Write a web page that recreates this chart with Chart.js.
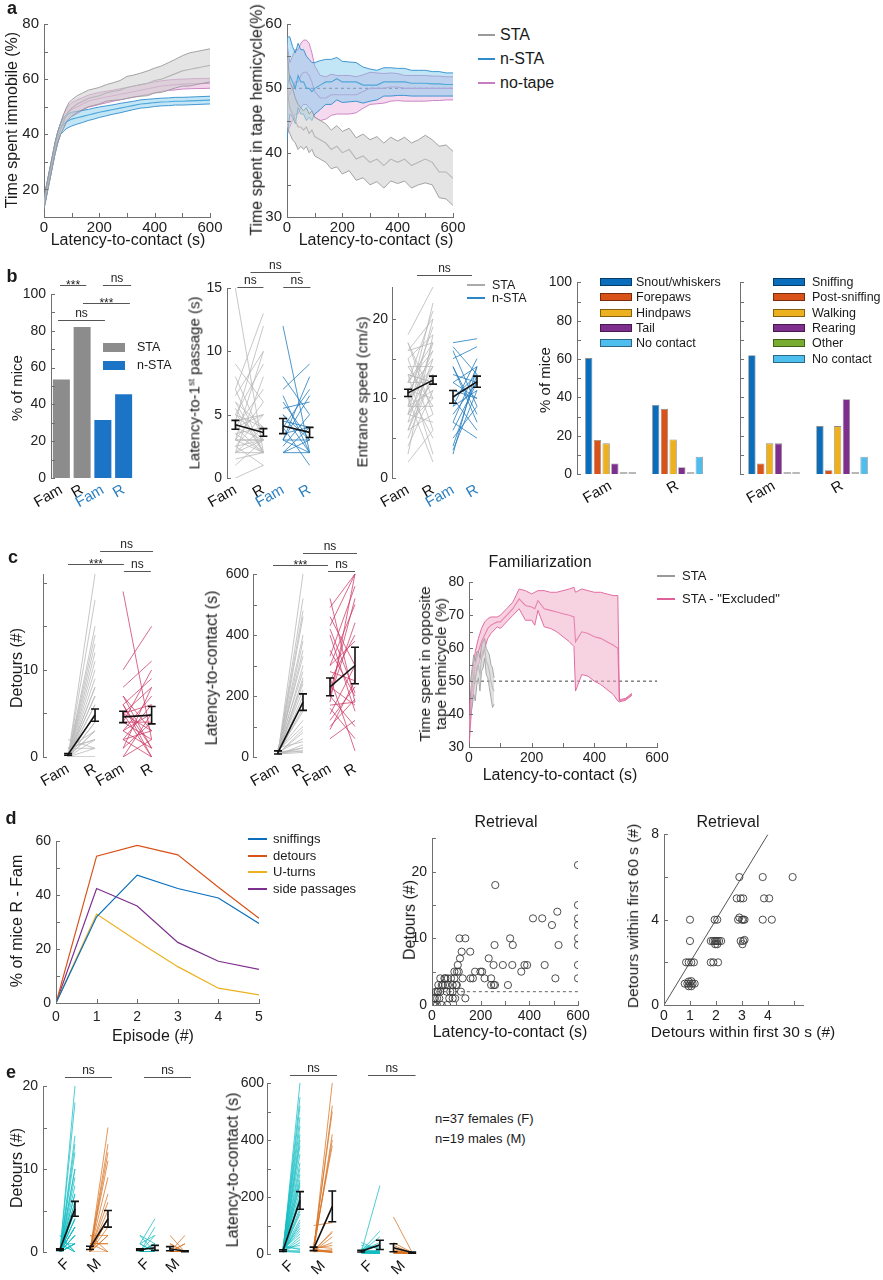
<!DOCTYPE html>
<html><head><meta charset="utf-8">
<script src="https://cdn.jsdelivr.net/npm/chart.js@4.4.1/dist/chart.umd.min.js"></script>
<style>
html,body{margin:0;padding:0;background:#fff;}
#fig{position:relative;width:883px;height:1280px;overflow:hidden;background:#fff;}
.t{position:absolute;white-space:nowrap;line-height:1.15;color:#1a1a1a;font-family:'Liberation Sans',Arial,sans-serif;}
.sw{position:absolute;box-sizing:border-box;}
</style></head><body><div id="fig"></div>
<script>
// ================= DATA =================
// panel a
const aLatency = [0,10,20,30,40,50,60,70,80,90,100,120,140,160,180,200,225,250,275,300,325,350,375,400,425,450,475,500,525,550,575,600];
const aImmSTA   = [15,20,25,30,35,39,42,44.5,47,48.5,49.5,51,52,53,53.5,54,55,55.5,56,57,57.5,58,58.5,59.5,60,61,62,63,63.5,64,64.5,65];
const aImmSTAe  = [2,2,2,2,2,2,2,2.5,2.5,3,3,3,3,3,3,3,3,3.2,3.5,4,4,4.2,4.5,4.5,4.8,5,5.2,5.5,6,6,6,6];
const aImmNSTA  = [15,20,25,30,35,39,42,43.5,44.5,45,45.5,46,46.5,47,47.5,48,48.5,49,49.5,50,50.5,51,51.2,51.5,51.7,51.8,52,52,52.1,52.2,52.3,52.4];
const aImmNSTAe = [2,2,2,2,2,2,2,2.5,2.5,2.5,2.5,2.3,2.2,2,2,1.9,1.8,1.7,1.7,1.6,1.5,1.5,1.5,1.4,1.4,1.4,1.4,1.4,1.4,1.4,1.4,1.4];
const aImmNT    = [15,20,25,30,35,39,42,44.5,46.5,48,49,50,51,52,52.5,53,53.5,54,54.5,55,55.5,56,56.5,57,57.5,57.8,58,58.2,58.3,58.4,58.4,58.5];
const aImmNTe   = [2,2,2,2,2,2,2,2.5,2.5,2.5,2.5,2.5,2.3,2.2,2.2,2.2,2.1,2,2,2,2,2,2,2,1.9,1.9,1.9,1.8,1.8,1.8,1.8,1.8];
const aHemSTA   = [50,47,46,45,44,44,43.5,44,43,43.5,42.5,42,41.5,40.5,41,40,40.5,39,39.5,38.5,39,38,39,38.5,39,38,38.5,39,38.5,37,37,36];
const aHemSTAe  = [6,4,4,3.5,3.5,3,3,3,3,3,3,3,3,3,3.2,3.3,3.3,3.3,3.4,3.5,3.5,3.5,3.4,3.3,3.4,3.5,3.5,3.7,3.5,4,4.2,4.2];
const aHemNSTA  = [50,52,51,50,52,51,51,50,50,49.5,50,50.5,51,51,51.5,51,51,51,50.5,50.5,50.5,51,51,51,51,50.8,50.8,50.8,50.7,50.7,50.6,50.6];
const aHemNSTAe = [8,6,5.5,5.5,5,5,5,5,4.5,4.5,4,3.8,3.5,3.5,3.3,3.2,3.1,3,2.8,2.5,2.3,2.2,2.2,2.1,2.1,2,2,2,1.9,1.9,1.8,1.8];
const aHemNT    = [50,49,50,51,51,52,52.5,52.5,52,51,49.5,48.5,48.5,49,49,49,49,49,49.5,50,50,50,50.2,50.2,50,50,50,50,50,50,50,50];
const aHemNTe   = [7,5,5,5,5,5,5,5,5,4.5,4,3.5,3.3,3.2,3,3,3,2.8,2.6,2.5,2.4,2.3,2.2,2.1,2,2,2,2,1.9,1.9,1.8,1.8];
const hemiChance = 50;
const chanceRange = [0,600];
// panel b
const bBarCats = ['Fam','R','Fam','R'];
const bBarVals = [53.5,82,31.5,45.5];
const bPairLabels = ['Fam','R','Fam','R'];
const bLatSTAfam  = [15,9,8,7,6.5,6,5.5,5,5,4.5,4.5,4,4,4,3.5,3.5,3,3,3,3,2.5,2.5,2.5,2,2,2,2,1.5,1,0,6,5,4,3,7];
const bLatSTAr    = [2,6,3,13,10,4,2,9,3,12,5,2,7,3,4,2,10,6,3,2,5,3,1,4,8,3,2,2,3,1,2,4,5,3,2];
const bLatNSTAfam = [12,8,7,6,5.5,5,4.5,4,4,3.5,3,3,3,2.5,2,2,2,6.5,5,3];
const bLatNSTAr   = [2,5,9,3,6,2,4,7,1,4,6.5,3,2,5,3,2,4,2,3,8];
const bLatMeanSTA = [4.2,3.6], bLatSemSTA = [0.35,0.3];
const bLatMeanNSTA = [4.1,3.6], bLatSemNSTA = [0.6,0.4];
const bSpdSTAfam  = [18,17,16,15,15,14,13,13,12,12,11,11,10,10,10,9,9,9,8,8,8,7,7,6,6,5,4,3,2,14,12,11,13,9,10,16,17,12,8,6];
const bSpdSTAr    = [24,8,20,6,18,14,3,12,21,17,10,15,2,13,19,9,16,11,7,14,12,17,10,8,15,13,11,18,6,9,16,5,12,22,14,17,10,12,20,13];
const bSpdNSTAfam = [17,16.5,16,15,14,13,12,11,10,10,9,9,8,7,7,6,5,4,3.5,3,12,14];
const bSpdNSTAr   = [17.5,13,9,16.5,7,12,14,10,6,13,15,11,12,5,14,12,9,13,11,14,10,8];
const bSpdMeanSTA = [10.7,12.3], bSpdSemSTA = [0.45,0.5];
const bSpdMeanNSTA = [10.2,12.1], bSpdSemNSTA = [0.8,0.7];
const gCats = ['Fam','R'];
const g1Snout = [60.5,36], g1Fore = [17.8,34], g1Hind = [16,18], g1Tail = [5.5,3.5], g1Other = [0,0], g1None = [0,9];
const g2Sniff = [62,25], g2Post = [5.5,2], g2Walk = [16,25], g2Rear = [16,39], g2Other = [0,0], g2None = [0,9];
// panel c
const cDetSTAfam = [0,0,0,0,0,0,0,0,0,0,0,0,0,0,0,0,0,0,0,0,1,1,1,2,0,0,0,0,1,0];
const cDetSTAr   = [21,18,15,14,13,12,11,10,9,8,8,7,6,6,5,5,4,4,3,3,2,2,1,1,1,0,0,2,3,7];
const cDetEXfam  = [19,10,8,7,6,6,5,5,5,4,4,4,3,3,3,2,2,2,1,1,0,0,6,7,5];
const cDetEXr    = [2,15,11,3,9,1,8,0,6,10,4,2,7,5,1,6,3,0,8,4,2,5,0,1,3];
const cDetMeanSTA = [0.3,4.8], cDetSemSTA = [0.1,0.7];
const cDetMeanEX = [4.6,4.8], cDetSemEX = [0.65,1.0];
const cLatSTAfam = [10,12,15,8,20,10,15,12,25,10,18,14,9,11,13,16,20,22,10,12,15,30,8,10,14,12,18,10,11,25];
const cLatSTAr   = [600,520,480,460,400,380,350,300,280,260,250,220,200,180,160,150,120,100,90,80,60,50,40,30,30,20,20,15,240,330];
const cLatEXfam  = [520,490,460,430,400,350,330,300,280,260,250,230,210,200,180,170,160,140,120,100,90,60,420,300,200];
const cLatEXr    = [180,600,300,600,150,200,560,500,250,20,400,170,520,100,600,180,60,300,230,190,250,120,210,380,440];
const cLatMeanSTA = [15,180], cLatSemSTA = [5,27];
const cLatMeanEX = [230,300], cLatSemEX = [29,60];
const famLatSTA = [5,10,15,20,25,30,35,40,45,50,55,60,65,70,75,80];
const famSTA    = [45,48,52,50,54,55,52,57,58,60,56,55,53,50,48,47];
const famSTAe   = [5,6,6,6,5,4,5,4,4,3,4,4,5,5,6,4];
const famLatEx  = [0,10,20,30,40,50,60,70,80,90,100,120,140,150,160,180,200,210,220,240,260,280,300,320,335,340,360,380,400,420,440,460,475,480,500,520];
const famEx     = [35,48,55,59,62,64,66,67,67.5,68,68,70,72,73.5,75,73,72.5,72,74.5,72,71.5,71,70.5,70,69.5,62,65,64.5,63.5,63,62,61,60,44,44.5,46];
const famExE    = [5,4,4,4,4,4,3,2.5,2,1.5,2,2,2,2.5,3,4.5,4,5,3,5.5,5.5,6,7,8,9,15,13,13,13.5,14,14.5,15,16,0.3,0.3,0.3];
// panel d
const dEpisode = [0,1,2,3,4,5];
const dSniff   = [0,32,47.5,42.5,39,29.5];
const dDetours = [0,54.5,58.5,55,43,31.5];
const dUturns  = [0,33,23,13.5,5.5,3];
const dSide    = [0,42.5,36,22.5,15.5,12.5];
const retLat = [600,260,600,515,415,453,600,493,600,113,137,321,600,257,332,520,600,122,157,115,233,106,253,291,330,380,391,463,600,92,103,177,199,206,367,34,51,65,78,92,126,158,168,216,243,507,600,26,40,54,65,85,99,102,243,254,259,312,16,23,34,75,85,119,7,12,21,71,85,95,137,5,10,40,62,20,25,30,45,55,60,110];
const retDet = [21,18,15,14,13,13,13,12,12,10,10,10,10,9,9,9,9,8,8,7,7,6,6,6,6,6,6,6,6,5,5,5,5,5,5,4,4,4,4,4,4,4,4,4,4,4,4,3,3,3,3,3,3,3,3,3,3,3,2,2,2,2,2,2,1,1,1,1,1,1,1,0,0,0,0,0,2,1,3,4,2,5];
const retThreshold = 2, retThresholdRange = [20,600];
const det30 = [2.9,3.8,4.95,2.8,2.95,3.05,3.85,4.05,1.0,1.95,2.05,2.85,2.9,3.0,3.05,3.1,3.8,4.15,1.0,1.8,1.88,1.95,2.0,2.05,2.12,2.2,1.97,2.05,2.95,3.05,3.1,3.02,0.85,0.95,1.05,1.15,1.8,1.9,2.08,0.8,0.9,0.95,1.0,1.05,1.1,1.18,0.95,1.05];
const det60 = [6,6,6,5,5,5,5,5,4,4,4,4,4.1,4,4,4,4,4,3,3,3,3,3,3,3,3,2.85,2.85,3,3,3.05,2.85,2,2,2,2,2,2,2,1,1,0.88,1,1.12,1,1,1.1,0.88];
const diagX = [0,4], diagY = [0,8];
// panel e
const eLabels = ['F','M','F','M'];
const eDetFfam  = [0,0,0,0,0,0,0,0,0,0,0,0,0,0,0,0,0,0,0,0,0,0,0,0,0,0,0,0,0,0,0,1,1,2,2,1,0];
const eDetFr    = [20,18,14,13,12,10,10,9,8,7,7,6,6,5,5,5,4,4,4,3,3,3,3,2,2,2,2,1,1,1,1,1,0,0,0,0,1];
const eDetMfam  = [0,0,0,0,0,0,0,0,0,0,0,0,0,1,1,1,2,2,0];
const eDetMr    = [15,13,12,11,9,7,6,5,4,4,3,2,2,1,1,0,2,0,0];
const eDet2Ffam = [2,2,1,1,1,1,0,0,0,0,0,0,0,0,0,0,0,0,0,0,0,0,0,0,0,0,0,0,0,0,0,0,0,0,0,0,0];
const eDet2Fr   = [0,1,0,4,2,0,3,1,1,0,0,0,0,1,0,0,0,0,2,0,0,0,0,0,1,0,0,0,0,0,0,0,0,0,0,0,0];
const eDet2Mfam = [2,1,1,0,0,0,0,0,0,0,0,0,0,0,0,0,0,0,0];
const eDet2Mr   = [0,0,0,2,1,0,1,0,0,0,0,0,0,0,0,0,0,0,0];
const eDetMeanF = [0.3,5.2], eDetSemF = [0.1,0.9];
const eDetMeanM = [0.5,4.0], eDetSemM = [0.2,1.0];
const eDet2MeanF = [0.3,0.5], eDet2SemF = [0.1,0.3];
const eDet2MeanM = [0.4,0.1], eDet2SemM = [0.25,0.05];
const eLatFfam  = [10,12,8,15,20,10,5,9,14,11,13,7,25,10,12,15,8,9,10,11,12,13,14,15,16,10,8,6,20,22,30,10,12,9,11,8,7];
const eLatFr    = [600,550,520,480,450,420,400,380,350,320,300,280,260,250,240,220,200,180,160,140,120,100,90,80,70,60,50,40,30,20,15,10,10,5,200,150,110];
const eLatMfam  = [10,15,20,8,12,30,100,10,12,9,15,20,25,10,8,12,18,14,11];
const eLatMr    = [600,520,500,420,400,380,110,80,75,60,40,30,20,15,10,10,8,5,5];
const eLat2Ffam = [5,10,8,12,15,20,30,40,10,8,6,5,4,10,12,8,6,5,9,7,10,5,6,8,4,3,5,6,7,8,9,10,5,4,6,7,8];
const eLat2Fr   = [240,80,60,40,30,25,20,15,10,5,8,6,4,12,10,8,5,3,6,4,3,5,2,4,3,2,5,4,3,2,6,5,4,3,2,5,4];
const eLat2Mfam = [130,40,30,20,15,10,10,8,6,5,5,4,3,10,8,6,5,4,3];
const eLat2Mr   = [5,5,3,4,2,3,5,4,3,2,3,4,5,2,3,4,2,3,2];
const eLatMeanF = [12,188], eLatSemF = [3,31];
const eLatMeanM = [18,167], eLatSemM = [6,54];
const eLat2MeanF = [10,32], eLat2SemF = [3,16];
const eLat2MeanM = [22,5], eLat2SemM = [14,2];

// ================= STYLE / HELPERS =================
const F = "'Liberation Sans', Arial, Helvetica, sans-serif";
const AX = '#707070';
Chart.defaults.font.family = F;
Chart.defaults.color = '#222';
const fig = document.getElementById('fig');

const deco = {
  id: 'deco',
  afterDatasetsDraw(chart, args, o) {
    const c = chart.ctx, X = chart.scales.x, Y = chart.scales.y;
    c.save();
    if (o.ticks) {
      c.strokeStyle = AX; c.lineWidth = 1;
      for (const id in o.ticks) {
        const s = chart.scales[id], st = o.ticks[id];
        if (!st) continue;
        const len = 4;
        for (let k = Math.ceil(s.min / st - 1e-9); k * st <= s.max + 1e-9; k++) {
          const p = Math.round(s.getPixelForValue(k * st)) + 0.5;
          c.beginPath();
          if (s.isHorizontal()) { c.moveTo(p, s.top); c.lineTo(p, s.top - len); }
          else { c.moveTo(s.right, p); c.lineTo(s.right + len, p); }
          c.stroke();
        }
      }
    }
    (o.err || []).forEach(g => {
      c.strokeStyle = '#111'; c.lineWidth = 1.6;
      const P = g.x.map((x, i) => ({x: X.getPixelForValue(x), m: Y.getPixelForValue(g.m[i]),
        hi: Y.getPixelForValue(g.m[i] + g.e[i]), lo: Y.getPixelForValue(g.m[i] - g.e[i])}));
      c.beginPath(); c.moveTo(P[0].x, P[0].m); c.lineTo(P[1].x, P[1].m); c.stroke();
      P.forEach(p => {
        c.beginPath();
        c.moveTo(p.x, p.hi); c.lineTo(p.x, p.lo);
        c.moveTo(p.x - 4, p.hi); c.lineTo(p.x + 4, p.hi);
        c.moveTo(p.x - 4, p.lo); c.lineTo(p.x + 4, p.lo);
        c.stroke();
      });
    });
    (o.sig || []).forEach(s => {
      const y = Math.round(Y.getPixelForValue(s.y)) + 0.5;
      const x0 = X.getPixelForValue(s.x0), x1 = X.getPixelForValue(s.x1);
      c.strokeStyle = '#555'; c.lineWidth = 1;
      c.beginPath(); c.moveTo(x0, y); c.lineTo(x1, y); c.stroke();
      c.fillStyle = '#222'; c.font = '12px ' + F; c.textAlign = 'center'; c.textBaseline = 'alphabetic';
      c.fillText(s.t, (x0 + x1) / 2, s.t === 'ns' ? y - 4 : y + 3);
    });
    c.restore();
  }
};

function mk(A, M, type, datasets, scales, dopt, extraData) {
  const W = A[2] - A[0] + M[0] + M[2], H = A[3] - A[1] + M[1] + M[3];
  const cv = document.createElement('canvas');
  cv.width = W; cv.height = H;
  cv.style.cssText = `position:absolute;left:${A[0]-M[0]}px;top:${A[1]-M[1]}px;width:${W}px;height:${H}px;`;
  fig.appendChild(cv);
  scales.x.afterFit = s => { s.height = M[3]; };
  scales.y.afterFit = s => { s.width = M[0]; };
  return new Chart(cv, {
    type, data: Object.assign({datasets}, extraData || {}),
    options: {
      responsive: false, animation: false,
      layout: {padding: {left: 0, top: M[1], right: M[2], bottom: 0}},
      plugins: {legend: {display: false}, tooltip: {enabled: false}, deco: dopt || {}},
      scales,
      elements: {point: {radius: 0}, line: {tension: 0}}
    },
    plugins: [deco]
  });
}

function lin(min, max, step, fs, pad, hide) {
  return {
    type: 'linear', min, max,
    grid: {display: false, drawTicks: false, tickLength: 0},
    border: {display: true, color: AX, width: 1},
    ticks: {stepSize: step, autoSkip: false, padding: pad == null ? 5 : pad, color: '#222', font: {size: fs || 14},
      callback: v => hide ? '' : (Math.abs(v / step - Math.round(v / step)) < 1e-6 ? String(Math.round(v * 100) / 100) : '')}
  };
}
function pxs(min, max, pos, labels, colors, rot, fs) {
  return {
    type: 'linear', min, max, grid: {display: false, drawTicks: false, tickLength: 0}, border: {display: false},
    afterBuildTicks: s => { s.ticks = pos.map(v => ({value: v})); },
    ticks: {autoSkip: false, maxRotation: rot, minRotation: rot, padding: 3, font: {size: fs || 15},
      callback: (v, i) => labels[i], color: c => colors[c.index] || '#111'}
  };
}
const pts = (xs, ys) => xs.map((x, i) => ({x, y: ys[i]}));
function band(xs, m, e, line, fillc) {
  return [
    {data: xs.map((x, i) => ({x, y: m[i] + e[i]})), showLine: true, borderColor: line, borderWidth: 0.9, pointRadius: 0},
    {data: xs.map((x, i) => ({x, y: m[i] - e[i]})), showLine: true, borderColor: line, borderWidth: 0.9, pointRadius: 0, fill: '-1', backgroundColor: fillc},
    {data: pts(xs, m), showLine: true, borderColor: line, borderWidth: 1.1, pointRadius: 0}
  ];
}
function pairs(fam, r, x0, x1, col) {
  return fam.map((f, i) => ({data: [{x: x0, y: f}, {x: x1, y: r[i]}], showLine: true, borderColor: col, borderWidth: 1, pointRadius: 0}));
}
function T(x, y, html, sz, o) {
  o = o || {};
  const d = document.createElement('div'); d.className = 't'; d.innerHTML = html;
  d.style.left = x + 'px'; d.style.top = y + 'px'; d.style.fontSize = (sz || 16) + 'px';
  if (o.b) d.style.fontWeight = 'bold';
  if (o.c) d.style.color = o.c;
  if (o.lh) d.style.lineHeight = o.lh;
  if (o.center) d.style.textAlign = 'center';
  d.style.transform = `translate(${o.left ? '0' : '-50%'},-50%)` + (o.r ? ` rotate(${o.r}deg)` : '');
  fig.appendChild(d);
}
function LN(x0, x1, y, col, w) {
  const d = document.createElement('div'); d.className = 'sw'; w = w || 2;
  d.style.cssText += `left:${x0}px;top:${Math.round(y - w / 2)}px;width:${x1 - x0}px;height:${w}px;background:${col};`;
  fig.appendChild(d);
}
function BX(x0, x1, y, h, col, bd) {
  const d = document.createElement('div'); d.className = 'sw';
  d.style.cssText += `left:${x0}px;top:${Math.round(y - h / 2)}px;width:${x1 - x0}px;height:${h}px;background:${col};border:1px solid ${bd || col};`;
  fig.appendChild(d);
}

const GRAYL = 'rgba(185,185,185,0.8)', BLUEL = 'rgba(35,125,190,0.8)', PINKL = 'rgba(205,55,100,0.75)';
const TEALL = 'rgba(20,190,195,0.75)', ORNL = 'rgba(215,115,35,0.75)';
const BARG = '#8c8c8c', BARB = '#1b74c5', TXTB = '#2a7fc0';
const MB = '#0a6ebd', MO = '#d95319', MY = '#edb120', MP = '#7e2f8e', MG = '#77ac30', MC = '#4dbeee';

// ================= PANEL a =================
mk([44,22,210,217], [36,12,18,22], 'scatter',
  [].concat(
    band(aLatency, aImmSTA, aImmSTAe, '#9a9a9a', 'rgba(205,205,205,0.55)'),
    band(aLatency, aImmNSTA, aImmNSTAe, '#2e8ccc', 'rgba(120,200,235,0.45)'),
    band(aLatency, aImmNT, aImmNTe, '#c77dbf', 'rgba(230,170,220,0.5)')),
  {x: lin(0, 600, 200, 15, 2), y: lin(10, 80, 20, 15, 5)},
  {ticks: {x: 100, y: 10}});

mk([287,22,453,217], [36,12,18,22], 'scatter',
  [].concat(
    band(aLatency, aHemSTA, aHemSTAe, '#9a9a9a', 'rgba(205,205,205,0.55)'),
    band(aLatency, aHemNSTA, aHemNSTAe, '#2e8ccc', 'rgba(120,200,235,0.45)'),
    band(aLatency, aHemNT, aHemNTe, '#c77dbf', 'rgba(230,170,220,0.45)'),
    [{data: chanceRange.map(x => ({x, y: hemiChance})), showLine: true, borderColor: '#555', borderWidth: 1.2, borderDash: [3,3], pointRadius: 0}]),
  {x: lin(0, 600, 200, 15, 2), y: lin(30, 60, 10, 15, 5)},
  {ticks: {x: 100, y: 5}});

T(12, 8, 'a', 18, {b: true});
T(12, 120, 'Time spent immobile (%)', 16, {r: -90});
T(128, 240, 'Latency-to-contact (s)', 16);
T(257, 120, 'Time spent in tape hemicycle(%)', 16, {r: -90});
T(376, 240, 'Latency-to-contact (s)', 16);
LN(478, 495, 35, '#9a9a9a'); T(500, 35, 'STA', 16, {left: true});
LN(478, 495, 59, '#2e8ccc'); T(500, 59, 'n-STA', 16, {left: true});
LN(478, 495, 83, '#c77dbf'); T(500, 83, 'no-tape', 16, {left: true});

// ================= PANEL b =================
mk([51,294,134,478], [40,30,8,45], 'bar',
  [{data: bBarVals, backgroundColor: [BARG, BARG, BARB, BARB], barPercentage: 0.82, categoryPercentage: 1}],
  {x: {type: 'category', grid: {display: false, drawTicks: false, tickLength: 0}, border: {display: false},
       ticks: {autoSkip: false, maxRotation: 30, minRotation: 30, padding: 3, font: {size: 15}, color: c => c.index >= 2 ? TXTB : '#111'}},
   y: lin(0, 100, 20, 14, 5)},
  {ticks: {y: 10}, sig: [{x0: -0.07, x1: 1.2, y: 105, t: '***'}, {x0: 2.0, x1: 3.36, y: 105, t: 'ns'},
                         {x0: 1.04, x1: 3.3, y: 95, t: '***'}, {x0: -0.16, x1: 2.1, y: 86, t: 'ns'}]},
  {labels: bBarCats});

const bLatX = [0, 1, 1.7, 2.65];
mk([227,288,318,478], [30,30,8,45], 'scatter',
  [].concat(pairs(bLatSTAfam, bLatSTAr, bLatX[0], bLatX[1], GRAYL), pairs(bLatNSTAfam, bLatNSTAr, bLatX[2], bLatX[3], BLUEL)),
  {x: pxs(-0.3, 2.95, bLatX, bPairLabels, ['#111', '#111', TXTB, TXTB], 30), y: lin(0, 15, 5, 14, 5)},
  {ticks: {y: 5},
   err: [{x: [bLatX[0], bLatX[1]], m: bLatMeanSTA, e: bLatSemSTA}, {x: [bLatX[2], bLatX[3]], m: bLatMeanNSTA, e: bLatSemNSTA}],
   sig: [{x0: 0.54, x1: 2.32, y: 16.3, t: 'ns'}, {x0: 0.07, x1: 1.0, y: 15.07, t: 'ns'}, {x0: 1.71, x1: 2.68, y: 15.07, t: 'ns'}]});

const bSpdX = [0, 1, 1.8, 2.76];
mk([392,287,485,478], [30,30,10,45], 'scatter',
  [].concat(pairs(bSpdSTAfam, bSpdSTAr, bSpdX[0], bSpdX[1], GRAYL), pairs(bSpdNSTAfam, bSpdNSTAr, bSpdX[2], bSpdX[3], BLUEL)),
  {x: pxs(-0.64, 3.08, bSpdX, bPairLabels, ['#111', '#111', TXTB, TXTB], 30), y: lin(0, 24, 10, 14, 4)},
  {ticks: {y: 5},
   err: [{x: [bSpdX[0], bSpdX[1]], m: bSpdMeanSTA, e: bSpdSemSTA}, {x: [bSpdX[2], bSpdX[3]], m: bSpdMeanNSTA, e: bSpdSemNSTA}],
   sig: [{x0: 0.36, x1: 2.56, y: 25.5, t: 'ns'}]});

function gb(vals, col) {
  return {data: vals, backgroundColor: c => c.raw === 0 ? '#b8b8b8' : col,
    borderColor: 'rgba(0,0,0,0.45)', borderWidth: c => c.raw === 0 ? 0 : 0.8,
    minBarLength: 2, barPercentage: 0.84, categoryPercentage: 0.78};
}
const gX = () => ({type: 'category', grid: {display: false, drawTicks: false, tickLength: 0}, border: {display: false},
  ticks: {autoSkip: false, maxRotation: 30, minRotation: 30, padding: 3, font: {size: 15}, color: '#111'}});
mk([577,281,711,474], [36,12,8,45], 'bar',
  [gb(g1Snout, MB), gb(g1Fore, MO), gb(g1Hind, MY), gb(g1Tail, MP), gb(g1Other, MG), gb(g1None, MC)],
  {x: gX(), y: lin(0, 100, 20, 14, 5)}, {ticks: {y: 10}}, {labels: gCats});
mk([740,281,876,474], [10,12,6,45], 'bar',
  [gb(g2Sniff, MB), gb(g2Post, MO), gb(g2Walk, MY), gb(g2Rear, MP), gb(g2Other, MG), gb(g2None, MC)],
  {x: gX(), y: lin(0, 100, 20, 14, 5, true)}, {ticks: {y: 10}}, {labels: gCats});

T(12, 276, 'b', 18, {b: true});
T(17, 388, '% of mice', 15, {r: -90});
BX(103, 125, 347, 9, BARG); T(137, 347, 'STA', 12.5, {left: true});
BX(103, 125, 365, 9, BARB); T(137, 365, 'n-STA', 12.5, {left: true});
T(194, 383, 'Latency-to-1<sup style="font-size:9px;vertical-align:5px">st</sup> passage (s)', 15, {r: -90});
T(362, 392, 'Entrance speed (cm/s)', 15, {r: -90});
LN(467, 485, 285, '#aaa'); T(492, 285, 'STA', 12.5, {left: true});
LN(467, 485, 298, '#2a86c4'); T(492, 298, 'n-STA', 12.5, {left: true});
T(545, 380, '% of mice', 15, {r: -90});
const leg1 = [['Snout/whiskers', MB], ['Forepaws', MO], ['Hindpaws', MY], ['Tail', MP], ['No contact', MC]];
leg1.forEach((l, i) => { BX(600, 632, 282 + i * 15.3, 8, l[1], 'rgba(0,0,0,0.45)'); T(636, 282 + i * 15.3, l[0], 12.5, {left: true}); });
const leg2 = [['Sniffing', MB], ['Post-sniffing', MO], ['Walking', MY], ['Rearing', MP], ['Other', MG], ['No contact', MC]];
leg2.forEach((l, i) => { BX(773, 805, 282 + i * 15.3, 8, l[1], 'rgba(0,0,0,0.45)'); T(812, 282 + i * 15.3, l[0], 12.5, {left: true}); });

// ================= PANEL c =================
const cDetX = [0, 1, 2.04, 3.1];
mk([43,574,160,757], [36,36,8,45], 'scatter',
  [].concat(pairs(cDetSTAfam, cDetSTAr, cDetX[0], cDetX[1], GRAYL), pairs(cDetEXfam, cDetEXr, cDetX[2], cDetX[3], PINKL)),
  {x: pxs(-0.93, 3.41, cDetX, bPairLabels, ['#111', '#111', '#111', '#111'], 30), y: lin(0, 21, 10, 14, 5)},
  {ticks: {y: 5},
   err: [{x: [cDetX[0], cDetX[1]], m: cDetMeanSTA, e: cDetSemSTA}, {x: [cDetX[2], cDetX[3]], m: cDetMeanEX, e: cDetSemEX}],
   sig: [{x0: 0, x1: 2.07, y: 22.2, t: '***'}, {x0: 1.19, x1: 3.15, y: 23.6, t: 'ns'}, {x0: 2.07, x1: 3.07, y: 21.4, t: 'ns'}]});

const cLatX = [0, 1, 2.08, 3.08];
mk([253,574,365,757], [36,36,8,45], 'scatter',
  [].concat(pairs(cLatSTAfam, cLatSTAr, cLatX[0], cLatX[1], GRAYL), pairs(cLatEXfam, cLatEXr, cLatX[2], cLatX[3], PINKL)),
  {x: pxs(-1, 3.48, cLatX, bPairLabels, ['#111', '#111', '#111', '#111'], 30), y: lin(0, 600, 200, 14, 4)},
  {ticks: {y: 100},
   err: [{x: [cLatX[0], cLatX[1]], m: cLatMeanSTA, e: cLatSemSTA}, {x: [cLatX[2], cLatX[3]], m: cLatMeanEX, e: cLatSemEX}],
   sig: [{x0: -0.2, x1: 2.0, y: 630, t: '***'}, {x0: 1.0, x1: 3.16, y: 669, t: 'ns'}, {x0: 2.0, x1: 3.08, y: 610, t: 'ns'}]});

mk([469,581,657,747], [30,12,16,22], 'scatter',
  [].concat(
    band(famLatSTA, famSTA, famSTAe, '#a0a0a0', 'rgba(205,205,205,0.6)'),
    band(famLatEx, famEx, famExE, '#e0609a', 'rgba(240,165,195,0.5)'),
    [{data: chanceRange.map(x => ({x, y: hemiChance})), showLine: true, borderColor: '#555', borderWidth: 1.1, borderDash: [3,3], pointRadius: 0}]),
  {x: lin(0, 600, 200, 14, 3), y: lin(30, 80, 10, 14, 5)},
  {ticks: {x: 100, y: 5}});

T(13, 557, 'c', 18, {b: true});
T(17, 668, 'Detours (#)', 16, {r: -90});
T(212, 668, 'Latency-to-contact (s)', 16, {r: -90});
T(540, 562, 'Familiarization', 16);
T(433, 664, 'Time spent in opposite<br>tape hemicycle (%)', 15.5, {r: -90, center: true, lh: '16px'});
T(560, 775, 'Latency-to-contact (s)', 16);
LN(657, 675, 576, '#999'); T(682, 576, 'STA', 13, {left: true});
LN(657, 675, 599, '#e0609a'); T(682, 599, 'STA - "Excluded"', 13, {left: true});

// ================= PANEL d =================
mk([56,840,259,1003], [30,12,14,24], 'scatter',
  [{data: pts(dEpisode, dSniff), showLine: true, borderColor: MB, borderWidth: 1.2},
   {data: pts(dEpisode, dDetours), showLine: true, borderColor: MO, borderWidth: 1.2},
   {data: pts(dEpisode, dUturns), showLine: true, borderColor: MY, borderWidth: 1.2},
   {data: pts(dEpisode, dSide), showLine: true, borderColor: MP, borderWidth: 1.2}],
  {x: lin(0, 5, 1, 14, 6), y: lin(0, 60, 20, 14, 5)},
  {ticks: {x: 1, y: 10}});

mk([432,837,578,1005], [30,12,16,22], 'scatter',
  [{data: pts(retLat, retDet), pointRadius: 3.6, pointBorderColor: '#3a3a3a', pointBackgroundColor: 'rgba(0,0,0,0)', pointBorderWidth: 0.9},
   {data: retThresholdRange.map(x => ({x, y: retThreshold})), showLine: true, borderColor: '#666', borderWidth: 1, borderDash: [3,3], pointRadius: 0}],
  {x: lin(0, 600, 200, 14, 3), y: lin(0, 25, 10, 14, 5)},
  {ticks: {x: 100, y: 5}});

mk([664,833,803,1005], [24,12,12,22], 'scatter',
  [{data: pts(det30, det60), pointRadius: 3.6, pointBorderColor: '#3a3a3a', pointBackgroundColor: 'rgba(0,0,0,0)', pointBorderWidth: 0.9},
   {data: pts(diagX, diagY), showLine: true, borderColor: '#555', borderWidth: 1, pointRadius: 0}],
  {x: lin(0, 5.35, 1, 14, 3), y: lin(0, 8, 4, 14, 5)},
  {ticks: {x: 1, y: 2}});

T(11, 818, 'd', 18, {b: true});
T(17, 921, '% of mice R - Fam', 16, {r: -90});
T(153, 1036, 'Episode (#)', 16);
[['sniffings', MB], ['detours', MO], ['U-turns', MY], ['side passages', MP]].forEach((l, i) => {
  LN(248, 267, 839 + i * 16.7, l[1]); T(273, 839 + i * 16.7, l[0], 13, {left: true});
});
T(506, 822, 'Retrieval', 16);
T(410, 920, 'Detours (#)', 16, {r: -90});
T(510, 1032, 'Latency-to-contact (s)', 16);
T(728, 822, 'Retrieval', 16);
T(633, 916, 'Detours within first 60 s (#)', 15.5, {r: -90});
T(743, 1032, 'Detours within first 30 s (#)', 15.5);

// ================= PANEL e =================
const eDetX = [0, 1, 2, 3.2, 5.33, 6.33, 7.33, 8.33];
mk([43,1086,195,1252], [36,36,8,28], 'scatter',
  [].concat(pairs(eDetFfam, eDetFr, eDetX[0], eDetX[1], TEALL), pairs(eDetMfam, eDetMr, eDetX[2], eDetX[3], ORNL),
            pairs(eDet2Ffam, eDet2Fr, eDetX[4], eDetX[5], TEALL), pairs(eDet2Mfam, eDet2Mr, eDetX[6], eDetX[7], ORNL)),
  {x: pxs(-1.13, 9, [0.5, 2.6, 5.83, 7.83], eLabels, [], 45), y: lin(0, 20, 10, 14, 5)},
  {ticks: {y: 5},
   err: [{x: [eDetX[0], eDetX[1]], m: eDetMeanF, e: eDetSemF}, {x: [eDetX[2], eDetX[3]], m: eDetMeanM, e: eDetSemM},
         {x: [eDetX[4], eDetX[5]], m: eDet2MeanF, e: eDet2SemF}, {x: [eDetX[6], eDetX[7]], m: eDet2MeanM, e: eDet2SemM}],
   sig: [{x0: 0.33, x1: 3.47, y: 21.1, t: 'ns'}, {x0: 5.6, x1: 8.73, y: 21.1, t: 'ns'}]});

const eLatX = [0, 1, 1.8, 2.9, 4.6, 5.7, 6.5, 7.6];
mk([267,1083,420,1254], [36,36,8,28], 'scatter',
  [].concat(pairs(eLatFfam, eLatFr, eLatX[0], eLatX[1], TEALL), pairs(eLatMfam, eLatMr, eLatX[2], eLatX[3], ORNL),
            pairs(eLat2Ffam, eLat2Fr, eLatX[4], eLatX[5], TEALL), pairs(eLat2Mfam, eLat2Mr, eLatX[6], eLatX[7], ORNL)),
  {x: pxs(-0.94, 8.06, [0.5, 2.35, 5.15, 7.05], eLabels, [], 45), y: lin(0, 600, 200, 14, 3)},
  {ticks: {y: 100},
   err: [{x: [eLatX[0], eLatX[1]], m: eLatMeanF, e: eLatSemF}, {x: [eLatX[2], eLatX[3]], m: eLatMeanM, e: eLatSemM},
         {x: [eLatX[4], eLatX[5]], m: eLat2MeanF, e: eLat2SemF}, {x: [eLatX[6], eLatX[7]], m: eLat2MeanM, e: eLat2SemM}],
   sig: [{x0: 0.41, x1: 3.18, y: 628, t: 'ns'}, {x0: 5.0, x1: 7.8, y: 628, t: 'ns'}]});

T(11, 1072, 'e', 18, {b: true});
T(17, 1168, 'Detours (#)', 16, {r: -90});
T(233, 1170, 'Latency-to-contact (s)', 16, {r: -90});
T(435, 1119, 'n=37 females (F)', 13, {left: true});
T(435, 1139, 'n=19 males (M)', 13, {left: true});
</script></body></html>
